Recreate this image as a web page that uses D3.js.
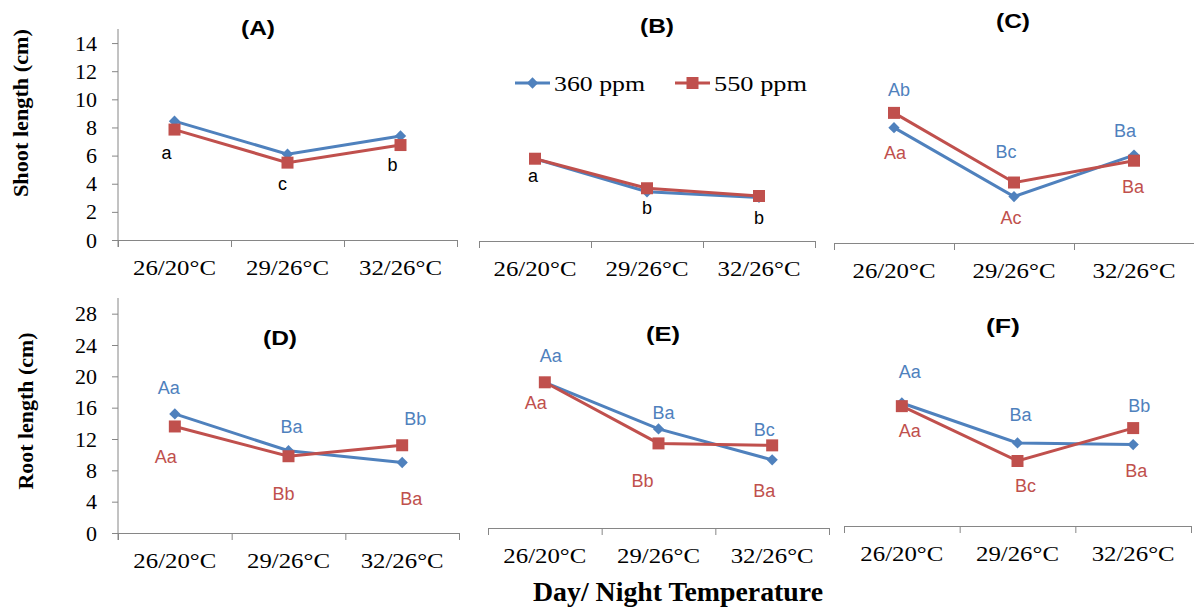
<!DOCTYPE html>
<html>
<head>
<meta charset="utf-8">
<title>Shoot and root length</title>
<script src="https://d3js.org/d3.v7.min.js"></script>
<style>
	body { margin: 0; background: #fff; }
	svg { display: block; }
	.axis path, .axis line { stroke: #868686; stroke-width: 1px; }
	.axis text { font-family: "Liberation Serif", "Times New Roman", serif; font-size: 22px; fill: #000; }
	.ptitle { font-family: "Liberation Sans", Arial, sans-serif; font-weight: bold; font-size: 20px; }
	.lbl { font-family: "Liberation Sans", Arial, sans-serif; font-size: 18px; }
	.ytitle, .xtitle { font-family: "Liberation Serif", "Times New Roman", serif; font-weight: bold; }
	.legend text { font-family: "Liberation Serif", "Times New Roman", serif; font-size: 22px; }
</style>
</head>
<body>
<svg id="chart" width="1194" height="608"></svg>
<script>
// ---- data ----
var categories = ["26/20°C", "29/26°C", "32/26°C"];
var seriesNames = ["360 ppm", "550 ppm"];
var shootTicks = [0, 2, 4, 6, 8, 10, 12, 14];
var rootTicks = [0, 4, 8, 12, 16, 20, 24, 28];

var shootA_360 = [8.45, 6.1, 7.4];
var shootA_550 = [7.85, 5.5, 6.75];
var shootB_360 = [5.85, 3.5, 3.1];
var shootB_550 = [5.85, 3.75, 3.2];
var shootC_360 = [8.2, 3.3, 6.25];
var shootC_550 = [9.25, 4.3, 5.85];
var rootD_360 = [15.2, 10.5, 9.0];
var rootD_550 = [13.6, 9.8, 11.2];
var rootE_360 = [18.6, 12.65, 8.7];
var rootE_550 = [18.6, 10.8, 10.55];
var rootF_360 = [15.7, 10.6, 10.4];
var rootF_550 = [15.3, 8.3, 12.5];

var shootA_letters = ["a", "c", "b"];
var shootB_letters = ["a", "b", "b"];
var shootC_360_letters = ["Ab", "Bc", "Ba"];
var shootC_550_letters = ["Aa", "Ac", "Ba"];
var rootD_360_letters = ["Aa", "Ba", "Bb"];
var rootD_550_letters = ["Aa", "Bb", "Ba"];
var rootE_360_letters = ["Aa", "Ba", "Bc"];
var rootE_550_letters = ["Aa", "Bb", "Ba"];
var rootF_360_letters = ["Aa", "Ba", "Bb"];
var rootF_550_letters = ["Aa", "Bc", "Ba"];

// ---- layout ----
var blue = "#4F81BD", red = "#C0504D";

var panels = [
	{ id: "(A)", left: 118, right: 457, base: 240, top: 29, max: 15, ticks: shootTicks, yAxis: true,
		tx: 258, ty: 35, s360: shootA_360, s550: shootA_550,
		lab550: shootA_letters, off550: [[-8, 23], [-5, 21], [-8, 20]], col550: "#000" },
	{ id: "(B)", left: 479, right: 815, base: 241, top: 30, max: 15, ticks: shootTicks,
		tx: 657, ty: 33, s360: shootB_360, s550: shootB_550,
		lab360: shootB_letters, off360: [[-2, 17], [0, 16], [0, 20]], col360: "#000" },
	{ id: "(C)", left: 834, right: 1194, base: 243, top: 32, max: 15, ticks: shootTicks,
		tx: 1013, ty: 28, s360: shootC_360, s550: shootC_550,
		lab360: shootC_360_letters, off360: [[5, -38], [-8, -45], [-9, -24]],
		lab550: shootC_550_letters, off550: [[1, 40], [-3, 35], [-1, 26]] },
	{ id: "(D)", left: 118, right: 459, base: 533, top: 298, max: 30, ticks: rootTicks, yAxis: true,
		tx: 280, ty: 345, s360: rootD_360, s550: rootD_550,
		lab360: rootD_360_letters, off360: [[-6, -26], [3, -24], [13, -44]],
		lab550: rootD_550_letters, off550: [[-9, 30], [-5, 37], [9, 53]] },
	{ id: "(E)", left: 488, right: 829, base: 528, top: 293, max: 30, ticks: rootTicks,
		tx: 663, ty: 341, s360: rootE_360, s550: rootE_550,
		lab360: rootE_360_letters, off360: [[6, -27], [5, -16], [-8, -30]],
		lab550: rootE_550_letters, off550: [[-9, 20], [-16, 37], [-8, 45]] },
	{ id: "(F)", left: 844, right: 1191, base: 526, top: 291, max: 30, ticks: rootTicks,
		tx: 1003, ty: 333, s360: rootF_360, s550: rootF_550,
		lab360: rootF_360_letters, off360: [[8, -31], [3, -28], [6, -39]],
		lab550: rootF_550_letters, off550: [[8, 25], [8, 25], [3, 43]] }
];

var svg = d3.select("#chart");
svg.append("rect").attr("width", 1194).attr("height", 608).attr("fill", "#fff");

var diamond = d3.symbol().type(d3.symbolSquare).size(64);
var square = d3.symbol().type(d3.symbolSquare).size(144);

panels.forEach(function (p) {
	var g = svg.append("g");
	var x = d3.scaleBand().domain(categories).range([p.left, p.right]).padding(0);
	var xb = d3.scaleLinear().domain([0, categories.length]).range([p.left, p.right]);
	var y = d3.scaleLinear().domain([0, p.max]).range([p.base, p.top]);
	var cx = function (d, i) { return x(categories[i]) + x.bandwidth() / 2; };

	// y axis
	if (p.yAxis) {
		g.append("g").attr("class", "axis")
			.attr("transform", "translate(" + p.left + ",0)")
			.call(d3.axisLeft(y).tickValues(p.ticks).tickSize(6).tickSizeOuter(0).tickPadding(15))
			.call(function (a) { a.select(".domain").attr("d", "M0," + y(p.max) + "V" + (p.base + 7)); });
	}

	// x axis: boundary ticks
	g.append("g").attr("class", "axis")
		.attr("transform", "translate(0," + p.base + ")")
		.call(d3.axisBottom(xb).tickValues(d3.range(categories.length + 1)).tickSize(7).tickSizeOuter(0).tickFormat(""));
	// x axis labels (source text is a little wide, so stretch)
	g.append("g").attr("class", "axis")
		.attr("transform", "translate(0," + p.base + ")")
		.call(d3.axisBottom(x).tickSize(0).tickPadding(19))
		.call(function (a) {
			a.select(".domain").remove();
			a.selectAll("text").attr("textLength", 83).attr("lengthAdjust", "spacingAndGlyphs");
		});

	// panel title
	g.append("text").attr("class", "ptitle")
		.attr("x", p.tx).attr("y", p.ty).attr("text-anchor", "middle")
		.attr("textLength", 34).attr("lengthAdjust", "spacingAndGlyphs")
		.text(p.id);

	var line = d3.line().x(cx).y(function (d) { return y(d); });

	g.append("path").datum(p.s360).attr("fill", "none").attr("stroke", blue)
		.attr("stroke-width", 3).attr("d", line);
	g.selectAll(".m360").data(p.s360).enter().append("path")
		.attr("fill", blue)
		.attr("transform", function (d, i) { return "translate(" + cx(d, i) + "," + y(d) + ") rotate(45)"; })
		.attr("d", diamond);

	g.append("path").datum(p.s550).attr("fill", "none").attr("stroke", red)
		.attr("stroke-width", 3).attr("d", line);
	g.selectAll(".m550").data(p.s550).enter().append("path")
		.attr("fill", red)
		.attr("transform", function (d, i) { return "translate(" + cx(d, i) + "," + y(d) + ")"; })
		.attr("d", square);

	function labels(vals, texts, offs, color) {
		if (!texts) return;
		g.selectAll(null).data(vals).enter().append("text")
			.attr("class", "lbl")
			.attr("x", function (d, i) { return cx(d, i) + offs[i][0]; })
			.attr("y", function (d, i) { return y(d) + offs[i][1]; })
			.attr("dy", "0.35em")
			.attr("text-anchor", "middle")
			.attr("fill", color)
			.text(function (d, i) { return texts[i]; });
	}
	labels(p.s360, p.lab360, p.off360, p.col360 || blue);
	labels(p.s550, p.lab550, p.off550, p.col550 || red);
});

// y titles
svg.append("text").attr("class", "ytitle").attr("font-size", 21)
	.attr("transform", "translate(28,113) rotate(-90)").attr("text-anchor", "middle")
	.attr("textLength", 168).attr("lengthAdjust", "spacingAndGlyphs")
	.text("Shoot length (cm)");
svg.append("text").attr("class", "ytitle").attr("font-size", 21)
	.attr("transform", "translate(33,411) rotate(-90)").attr("text-anchor", "middle")
	.attr("textLength", 157).attr("lengthAdjust", "spacingAndGlyphs")
	.text("Root length (cm)");

// x title
svg.append("text").attr("class", "xtitle").attr("font-size", 27)
	.attr("x", 678).attr("y", 601).attr("text-anchor", "middle")
	.attr("textLength", 290).attr("lengthAdjust", "spacingAndGlyphs")
	.text("Day/ Night Temperature");

// legend
var leg = svg.append("g").attr("class", "legend");
var legItems = [
	{ name: seriesNames[0], x: 515, w: 91, color: blue, sym: diamond, rot: 45 },
	{ name: seriesNames[1], x: 675, w: 93, color: red, sym: square, rot: 0 }
];
legItems.forEach(function (it) {
	leg.append("line").attr("x1", it.x).attr("x2", it.x + 35).attr("y1", 83).attr("y2", 83)
		.attr("stroke", it.color).attr("stroke-width", 3);
	leg.append("path").attr("d", it.sym).attr("fill", it.color)
		.attr("transform", "translate(" + (it.x + 17.5) + ",83) rotate(" + it.rot + ")");
	leg.append("text").attr("x", it.x + 39).attr("y", 91)
		.attr("textLength", it.w).attr("lengthAdjust", "spacingAndGlyphs")
		.text(it.name);
});
</script>
</body>
</html>
